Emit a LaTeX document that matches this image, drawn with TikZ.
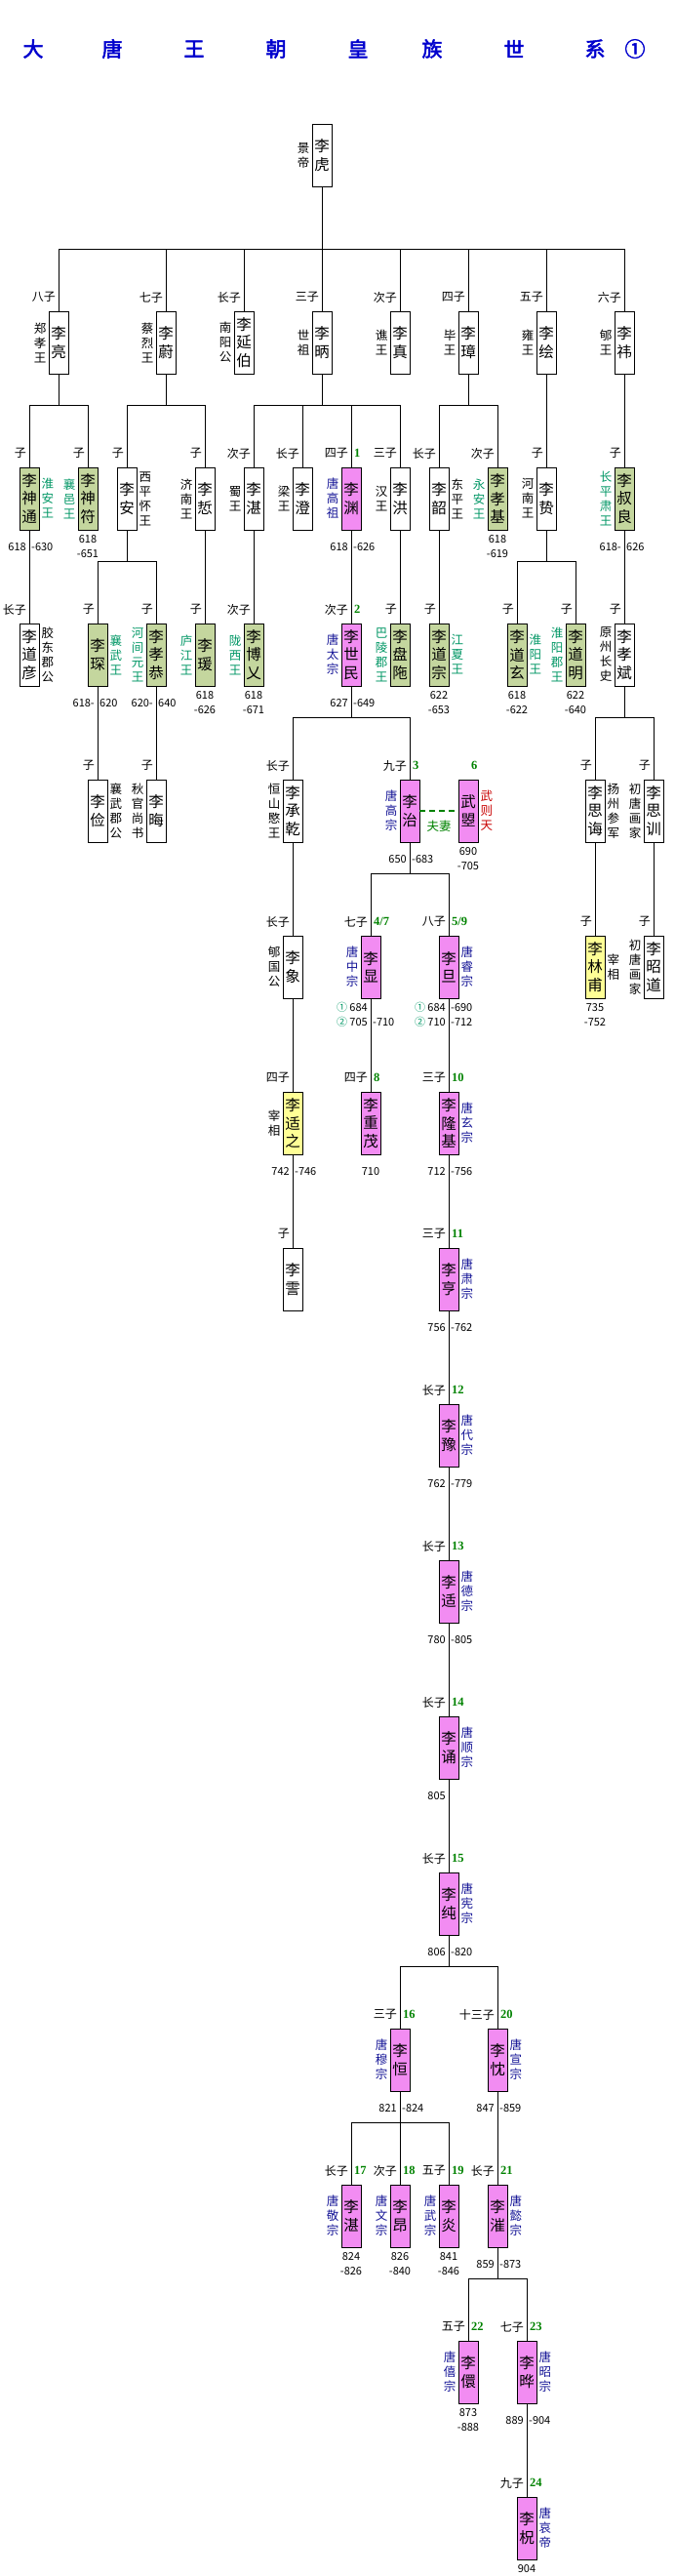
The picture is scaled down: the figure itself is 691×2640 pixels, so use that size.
\documentclass[tikz,border=0pt]{standalone}
\usepackage{fontspec}
\setmainfont{Noto Sans CJK SC}
\newfontfamily\titlefont{Noto Sans CJK SC}[FakeBold=2.5]
\newfontfamily\numfont{Liberation Serif}
\usetikzlibrary{positioning,calc}

\definecolor{fenhong}{RGB}{242,140,242}  % 皇帝
\definecolor{danlv}{RGB}{196,214,158}    % 封王
\definecolor{danhuang}{RGB}{255,255,150} % 宰相
\definecolor{wanglv}{RGB}{0,150,100}
\definecolor{dilan}{RGB}{20,20,150}
\definecolor{hongzi}{RGB}{200,0,0}
\definecolor{shulv}{RGB}{0,130,0}
\definecolor{biaolan}{RGB}{0,0,205}

\tikzset{
  wbox/.style={draw,line width=0.9pt,fill=white,minimum width=20pt,minimum height=64pt,inner sep=0pt,align=center,font=\fontsize{15.5}{18.5}\selectfont},
  gbox/.style={wbox,fill=danlv},
  pbox/.style={wbox,fill=fenhong},
  ybox/.style={wbox,fill=danhuang},
  sidet/.style={inner sep=0pt,align=center,font=\fontsize{12.5}{15}\selectfont},
  relt/.style={inner sep=0pt,anchor=east,font=\fontsize{12}{14}\selectfont},
  haot/.style={inner sep=0pt,anchor=west,text=shulv,font=\numfont\bfseries\fontsize{12.5}{14}\selectfont},
  datel/.style={inner sep=0pt,anchor=east,font=\fontsize{11}{13}\selectfont},
  dater/.style={inner sep=0pt,anchor=west,font=\fontsize{11}{13}\selectfont},
  datec/.style={inner sep=0pt,font=\fontsize{11}{13}\selectfont},
  lianxian/.style={line width=0.9pt},
  fuqi/.style={draw=shulv,line width=1.8pt,dash pattern=on 6pt off 4pt},
  ttl/.style={inner sep=0pt,text=biaolan,font=\titlefont\fontsize{21}{24}\selectfont},
}

\begin{document}
\begin{tikzpicture}[x=1pt,y=-1pt]
\useasboundingbox (0,0) rectangle (691,2640);

% 标题
\foreach \ch/\x [count=\i] in {大/34,唐/115,王/199,朝/283,皇/367,族/443,世/527,系/610,①/651}
  \node[ttl] (title\i) at (\x,50) {\ch};

% 第一代
\node[wbox] (hu) at (330,159) {李\\虎};
\node[sidet,left=2pt of hu] (hu-t) {景\\帝};

% 第二代
\node[wbox] (liang) at (60,351) {李\\亮};
\node[relt] (liang-r) at ([xshift=-3pt,yshift=14pt]liang.north) {八子};
\node[sidet,left=2pt of liang] (liang-t) {郑\\孝\\王};
\node[wbox] (wei) at (170,351) {李\\蔚};
\node[relt] (wei-r) at ([xshift=-3pt,yshift=14pt]wei.north) {七子};
\node[sidet,left=2pt of wei] (wei-t) {蔡\\烈\\王};
\node[wbox] (yanbo) at (250,351) {李\\延\\伯};
\node[relt] (yanbo-r) at ([xshift=-3pt,yshift=14pt]yanbo.north) {长子};
\node[sidet,left=2pt of yanbo] (yanbo-t) {南\\阳\\公};
\node[wbox] (bing) at (330,351) {李\\昞};
\node[relt] (bing-r) at ([xshift=-3pt,yshift=14pt]bing.north) {三子};
\node[sidet,left=2pt of bing] (bing-t) {世\\祖};
\node[wbox] (zhen) at (410,351) {李\\真};
\node[relt] (zhen-r) at ([xshift=-3pt,yshift=14pt]zhen.north) {次子};
\node[sidet,left=2pt of zhen] (zhen-t) {谯\\王};
\node[wbox] (zhang) at (480,351) {李\\璋};
\node[relt] (zhang-r) at ([xshift=-3pt,yshift=14pt]zhang.north) {四子};
\node[sidet,left=2pt of zhang] (zhang-t) {毕\\王};
\node[wbox] (hui) at (560,351) {李\\绘};
\node[relt] (hui-r) at ([xshift=-3pt,yshift=14pt]hui.north) {五子};
\node[sidet,left=2pt of hui] (hui-t) {雍\\王};
\node[wbox] (yi) at (640,351) {李\\祎};
\node[relt] (yi-r) at ([xshift=-3pt,yshift=14pt]yi.north) {六子};
\node[sidet,left=2pt of yi] (yi-t) {郇\\王};

% 第三代
\node[gbox] (shentong) at (30,511) {李\\神\\通};
\node[relt] (shentong-r) at ([xshift=-3pt,yshift=14pt]shentong.north) {子};
\node[sidet,text=wanglv,right=2pt of shentong] (shentong-t) {淮\\安\\王};
\node[datel] (shentong-d1) at ([xshift=-3pt,yshift=-17pt]shentong.south) {618};
\node[dater] (shentong-d2) at ([xshift=2pt,yshift=-17pt]shentong.south) {-630};
\node[gbox] (shenfu) at (90,511) {李\\神\\符};
\node[relt] (shenfu-r) at ([xshift=-3pt,yshift=14pt]shenfu.north) {子};
\node[sidet,text=wanglv,left=2pt of shenfu] (shenfu-t) {襄\\邑\\王};
\node[datec] (shenfu-d1) at ([yshift=-9pt]shenfu.south) {618};
\node[datec] (shenfu-d2) at ([yshift=-24pt]shenfu.south) {-651};
\node[wbox] (an) at (130,511) {李\\安};
\node[relt] (an-r) at ([xshift=-3pt,yshift=14pt]an.north) {子};
\node[sidet,right=2pt of an] (an-t) {西\\平\\怀\\王};
\node[wbox] (zhe) at (210,511) {李\\悊};
\node[relt] (zhe-r) at ([xshift=-3pt,yshift=14pt]zhe.north) {子};
\node[sidet,left=2pt of zhe] (zhe-t) {济\\南\\王};
\node[wbox] (zhan) at (260,511) {李\\湛};
\node[relt] (zhan-r) at ([xshift=-3pt,yshift=14pt]zhan.north) {次子};
\node[sidet,left=2pt of zhan] (zhan-t) {蜀\\王};
\node[wbox] (cheng) at (310,511) {李\\澄};
\node[relt] (cheng-r) at ([xshift=-3pt,yshift=14pt]cheng.north) {长子};
\node[sidet,left=2pt of cheng] (cheng-t) {梁\\王};
\node[pbox] (yuan) at (360,511) {李\\渊};
\node[relt] (yuan-r) at ([xshift=-3pt,yshift=14pt]yuan.north) {四子};
\node[haot] (yuan-n) at ([xshift=3pt,yshift=14pt]yuan.north) {1};
\node[sidet,text=dilan,left=2pt of yuan] (yuan-t) {唐\\高\\祖};
\node[datel] (yuan-d1) at ([xshift=-3pt,yshift=-17pt]yuan.south) {618};
\node[dater] (yuan-d2) at ([xshift=2pt,yshift=-17pt]yuan.south) {-626};
\node[wbox] (hong) at (410,511) {李\\洪};
\node[relt] (hong-r) at ([xshift=-3pt,yshift=14pt]hong.north) {三子};
\node[sidet,left=2pt of hong] (hong-t) {汉\\王};
\node[wbox] (shao) at (450,511) {李\\韶};
\node[relt] (shao-r) at ([xshift=-3pt,yshift=14pt]shao.north) {长子};
\node[sidet,right=2pt of shao] (shao-t) {东\\平\\王};
\node[gbox] (xiaoji) at (510,511) {李\\孝\\基};
\node[relt] (xiaoji-r) at ([xshift=-3pt,yshift=14pt]xiaoji.north) {次子};
\node[sidet,text=wanglv,left=2pt of xiaoji] (xiaoji-t) {永\\安\\王};
\node[datec] (xiaoji-d1) at ([yshift=-9pt]xiaoji.south) {618};
\node[datec] (xiaoji-d2) at ([yshift=-24pt]xiaoji.south) {-619};
\node[wbox] (zhi) at (560,511) {李\\贽};
\node[relt] (zhi-r) at ([xshift=-3pt,yshift=14pt]zhi.north) {子};
\node[sidet,left=2pt of zhi] (zhi-t) {河\\南\\王};
\node[gbox] (shuliang) at (640,511) {李\\叔\\良};
\node[relt] (shuliang-r) at ([xshift=-3pt,yshift=14pt]shuliang.north) {子};
\node[sidet,text=wanglv,left=2pt of shuliang] (shuliang-t) {长\\平\\肃\\王};
\node[datel] (shuliang-d1) at ([xshift=-3pt,yshift=-17pt]shuliang.south) {618-};
\node[dater] (shuliang-d2) at ([xshift=2pt,yshift=-17pt]shuliang.south) {626};

% 第四代
\node[wbox] (daoyan) at (30,671) {李\\道\\彦};
\node[relt] (daoyan-r) at ([xshift=-3pt,yshift=14pt]daoyan.north) {长子};
\node[sidet,right=2pt of daoyan] (daoyan-t) {胶\\东\\郡\\公};
\node[gbox] (chen) at (100,671) {李\\琛};
\node[relt] (chen-r) at ([xshift=-3pt,yshift=14pt]chen.north) {子};
\node[sidet,text=wanglv,right=2pt of chen] (chen-t) {襄\\武\\王};
\node[datel] (chen-d1) at ([xshift=-3pt,yshift=-17pt]chen.south) {618-};
\node[dater] (chen-d2) at ([xshift=2pt,yshift=-17pt]chen.south) {620};
\node[gbox] (xiaogong) at (160,671) {李\\孝\\恭};
\node[relt] (xiaogong-r) at ([xshift=-3pt,yshift=14pt]xiaogong.north) {子};
\node[sidet,text=wanglv,left=2pt of xiaogong] (xiaogong-t) {河\\间\\元\\王};
\node[datel] (xiaogong-d1) at ([xshift=-3pt,yshift=-17pt]xiaogong.south) {620-};
\node[dater] (xiaogong-d2) at ([xshift=2pt,yshift=-17pt]xiaogong.south) {640};
\node[gbox] (yuan2) at (210,671) {李\\瑗};
\node[relt] (yuan2-r) at ([xshift=-3pt,yshift=14pt]yuan2.north) {子};
\node[sidet,text=wanglv,left=2pt of yuan2] (yuan2-t) {庐\\江\\王};
\node[datec] (yuan2-d1) at ([yshift=-9pt]yuan2.south) {618};
\node[datec] (yuan2-d2) at ([yshift=-24pt]yuan2.south) {-626};
\node[gbox] (boyi) at (260,671) {李\\博\\乂};
\node[relt] (boyi-r) at ([xshift=-3pt,yshift=14pt]boyi.north) {次子};
\node[sidet,text=wanglv,left=2pt of boyi] (boyi-t) {陇\\西\\王};
\node[datec] (boyi-d1) at ([yshift=-9pt]boyi.south) {618};
\node[datec] (boyi-d2) at ([yshift=-24pt]boyi.south) {-671};
\node[pbox] (shimin) at (360,671) {李\\世\\民};
\node[relt] (shimin-r) at ([xshift=-3pt,yshift=14pt]shimin.north) {次子};
\node[haot] (shimin-n) at ([xshift=3pt,yshift=14pt]shimin.north) {2};
\node[sidet,text=dilan,left=2pt of shimin] (shimin-t) {唐\\太\\宗};
\node[datel] (shimin-d1) at ([xshift=-3pt,yshift=-17pt]shimin.south) {627};
\node[dater] (shimin-d2) at ([xshift=2pt,yshift=-17pt]shimin.south) {-649};
\node[gbox] (panto) at (410,671) {李\\盘\\陁};
\node[relt] (panto-r) at ([xshift=-3pt,yshift=14pt]panto.north) {子};
\node[sidet,text=wanglv,left=2pt of panto] (panto-t) {巴\\陵\\郡\\王};
\node[gbox] (daozong) at (450,671) {李\\道\\宗};
\node[relt] (daozong-r) at ([xshift=-3pt,yshift=14pt]daozong.north) {子};
\node[sidet,text=wanglv,right=2pt of daozong] (daozong-t) {江\\夏\\王};
\node[datec] (daozong-d1) at ([yshift=-9pt]daozong.south) {622};
\node[datec] (daozong-d2) at ([yshift=-24pt]daozong.south) {-653};
\node[gbox] (daoxuan) at (530,671) {李\\道\\玄};
\node[relt] (daoxuan-r) at ([xshift=-3pt,yshift=14pt]daoxuan.north) {子};
\node[sidet,text=wanglv,right=2pt of daoxuan] (daoxuan-t) {淮\\阳\\王};
\node[datec] (daoxuan-d1) at ([yshift=-9pt]daoxuan.south) {618};
\node[datec] (daoxuan-d2) at ([yshift=-24pt]daoxuan.south) {-622};
\node[gbox] (daoming) at (590,671) {李\\道\\明};
\node[relt] (daoming-r) at ([xshift=-3pt,yshift=14pt]daoming.north) {子};
\node[sidet,text=wanglv,left=2pt of daoming] (daoming-t) {淮\\阳\\郡\\王};
\node[datec] (daoming-d1) at ([yshift=-9pt]daoming.south) {622};
\node[datec] (daoming-d2) at ([yshift=-24pt]daoming.south) {-640};
\node[wbox] (xiaobin) at (640,671) {李\\孝\\斌};
\node[relt] (xiaobin-r) at ([xshift=-3pt,yshift=14pt]xiaobin.north) {子};
\node[sidet,left=2pt of xiaobin] (xiaobin-t) {原\\州\\长\\史};

% 第五代
\node[wbox] (jian) at (100,831) {李\\俭};
\node[relt] (jian-r) at ([xshift=-3pt,yshift=14pt]jian.north) {子};
\node[sidet,right=2pt of jian] (jian-t) {襄\\武\\郡\\公};
\node[wbox] (hui2) at (160,831) {李\\晦};
\node[relt] (hui2-r) at ([xshift=-3pt,yshift=14pt]hui2.north) {子};
\node[sidet,left=2pt of hui2] (hui2-t) {秋\\官\\尚\\书};
\node[wbox] (chengqian) at (300,831) {李\\承\\乾};
\node[relt] (chengqian-r) at ([xshift=-3pt,yshift=14pt]chengqian.north) {长子};
\node[sidet,left=2pt of chengqian] (chengqian-t) {恒\\山\\愍\\王};
\node[pbox] (zhi2) at (420,831) {李\\治};
\node[relt] (zhi2-r) at ([xshift=-3pt,yshift=14pt]zhi2.north) {九子};
\node[haot] (zhi2-n) at ([xshift=3pt,yshift=14pt]zhi2.north) {3};
\node[sidet,text=dilan,left=2pt of zhi2] (zhi2-t) {唐\\高\\宗};
\node[datel] (zhi2-d1) at ([xshift=-3pt,yshift=-17pt]zhi2.south) {650};
\node[dater] (zhi2-d2) at ([xshift=2pt,yshift=-17pt]zhi2.south) {-683};
\node[pbox] (zhao) at (480,831) {武\\曌};
\node[haot] (zhao-n) at ([xshift=3pt,yshift=14pt]zhao.north) {6};
\node[sidet,text=hongzi,right=2pt of zhao] (zhao-t) {武\\则\\天};
\node[datec] (zhao-d1) at ([yshift=-9pt]zhao.south) {690};
\node[datec] (zhao-d2) at ([yshift=-24pt]zhao.south) {-705};
\node[wbox] (sihui) at (610,831) {李\\思\\诲};
\node[relt] (sihui-r) at ([xshift=-3pt,yshift=14pt]sihui.north) {子};
\node[sidet,right=2pt of sihui] (sihui-t) {扬\\州\\参\\军};
\node[wbox] (sixun) at (670,831) {李\\思\\训};
\node[relt] (sixun-r) at ([xshift=-3pt,yshift=14pt]sixun.north) {子};
\node[sidet,left=2pt of sixun] (sixun-t) {初\\唐\\画\\家};

% 第六代
\node[wbox] (xiang) at (300,991) {李\\象};
\node[relt] (xiang-r) at ([xshift=-3pt,yshift=14pt]xiang.north) {长子};
\node[sidet,left=2pt of xiang] (xiang-t) {郇\\国\\公};
\node[pbox] (xian) at (380,991) {李\\显};
\node[relt] (xian-r) at ([xshift=-3pt,yshift=14pt]xian.north) {七子};
\node[haot] (xian-n) at ([xshift=3pt,yshift=14pt]xian.north) {4/7};
\node[sidet,text=dilan,left=2pt of xian] (xian-t) {唐\\中\\宗};
\node[datel] (xian-d1) at ([xshift=-3pt,yshift=-9pt]xian.south) {\textcolor{wanglv}{①} 684};
\node[datel] (xian-d2) at ([xshift=-3pt,yshift=-24pt]xian.south) {\textcolor{wanglv}{②} 705};
\node[dater] (xian-d3) at ([xshift=2pt,yshift=-24pt]xian.south) {-710};
\node[pbox] (dan) at (460,991) {李\\旦};
\node[relt] (dan-r) at ([xshift=-3pt,yshift=14pt]dan.north) {八子};
\node[haot] (dan-n) at ([xshift=3pt,yshift=14pt]dan.north) {5/9};
\node[sidet,text=dilan,right=2pt of dan] (dan-t) {唐\\睿\\宗};
\node[datel] (dan-d1) at ([xshift=-3pt,yshift=-9pt]dan.south) {\textcolor{wanglv}{①} 684};
\node[dater] (dan-d2) at ([xshift=2pt,yshift=-9pt]dan.south) {-690};
\node[datel] (dan-d3) at ([xshift=-3pt,yshift=-24pt]dan.south) {\textcolor{wanglv}{②} 710};
\node[dater] (dan-d4) at ([xshift=2pt,yshift=-24pt]dan.south) {-712};
\node[ybox] (linfu) at (610,991) {李\\林\\甫};
\node[relt] (linfu-r) at ([xshift=-3pt,yshift=14pt]linfu.north) {子};
\node[sidet,right=2pt of linfu] (linfu-t) {宰\\相};
\node[datec] (linfu-d1) at ([yshift=-9pt]linfu.south) {735};
\node[datec] (linfu-d2) at ([yshift=-24pt]linfu.south) {-752};
\node[wbox] (zhaodao) at (670,991) {李\\昭\\道};
\node[relt] (zhaodao-r) at ([xshift=-3pt,yshift=14pt]zhaodao.north) {子};
\node[sidet,left=2pt of zhaodao] (zhaodao-t) {初\\唐\\画\\家};

% 第七代
\node[ybox] (shizhi) at (300,1151) {李\\适\\之};
\node[relt] (shizhi-r) at ([xshift=-3pt,yshift=14pt]shizhi.north) {四子};
\node[sidet,left=2pt of shizhi] (shizhi-t) {宰\\相};
\node[datel] (shizhi-d1) at ([xshift=-3pt,yshift=-17pt]shizhi.south) {742};
\node[dater] (shizhi-d2) at ([xshift=2pt,yshift=-17pt]shizhi.south) {-746};
\node[pbox] (chongmao) at (380,1151) {李\\重\\茂};
\node[relt] (chongmao-r) at ([xshift=-3pt,yshift=14pt]chongmao.north) {四子};
\node[haot] (chongmao-n) at ([xshift=3pt,yshift=14pt]chongmao.north) {8};
\node[datec] (chongmao-d1) at ([yshift=-17pt]chongmao.south) {710};
\node[pbox] (longji) at (460,1151) {李\\隆\\基};
\node[relt] (longji-r) at ([xshift=-3pt,yshift=14pt]longji.north) {三子};
\node[haot] (longji-n) at ([xshift=3pt,yshift=14pt]longji.north) {10};
\node[sidet,text=dilan,right=2pt of longji] (longji-t) {唐\\玄\\宗};
\node[datel] (longji-d1) at ([xshift=-3pt,yshift=-17pt]longji.south) {712};
\node[dater] (longji-d2) at ([xshift=2pt,yshift=-17pt]longji.south) {-756};

% 第八代以下
\node[wbox] (zha) at (300,1311) {李\\霅};
\node[relt] (zha-r) at ([xshift=-3pt,yshift=14pt]zha.north) {子};
\node[pbox] (heng) at (460,1311) {李\\亨};
\node[relt] (heng-r) at ([xshift=-3pt,yshift=14pt]heng.north) {三子};
\node[haot] (heng-n) at ([xshift=3pt,yshift=14pt]heng.north) {11};
\node[sidet,text=dilan,right=2pt of heng] (heng-t) {唐\\肃\\宗};
\node[datel] (heng-d1) at ([xshift=-3pt,yshift=-17pt]heng.south) {756};
\node[dater] (heng-d2) at ([xshift=2pt,yshift=-17pt]heng.south) {-762};

\node[pbox] (yu) at (460,1471) {李\\豫};
\node[relt] (yu-r) at ([xshift=-3pt,yshift=14pt]yu.north) {长子};
\node[haot] (yu-n) at ([xshift=3pt,yshift=14pt]yu.north) {12};
\node[sidet,text=dilan,right=2pt of yu] (yu-t) {唐\\代\\宗};
\node[datel] (yu-d1) at ([xshift=-3pt,yshift=-17pt]yu.south) {762};
\node[dater] (yu-d2) at ([xshift=2pt,yshift=-17pt]yu.south) {-779};

\node[pbox] (kuo) at (460,1631) {李\\适};
\node[relt] (kuo-r) at ([xshift=-3pt,yshift=14pt]kuo.north) {长子};
\node[haot] (kuo-n) at ([xshift=3pt,yshift=14pt]kuo.north) {13};
\node[sidet,text=dilan,right=2pt of kuo] (kuo-t) {唐\\德\\宗};
\node[datel] (kuo-d1) at ([xshift=-3pt,yshift=-17pt]kuo.south) {780};
\node[dater] (kuo-d2) at ([xshift=2pt,yshift=-17pt]kuo.south) {-805};

\node[pbox] (song) at (460,1791) {李\\诵};
\node[relt] (song-r) at ([xshift=-3pt,yshift=14pt]song.north) {长子};
\node[haot] (song-n) at ([xshift=3pt,yshift=14pt]song.north) {14};
\node[sidet,text=dilan,right=2pt of song] (song-t) {唐\\顺\\宗};
\node[datel] (song-d1) at ([xshift=-3pt,yshift=-17pt]song.south) {805};

\node[pbox] (chun) at (460,1951) {李\\纯};
\node[relt] (chun-r) at ([xshift=-3pt,yshift=14pt]chun.north) {长子};
\node[haot] (chun-n) at ([xshift=3pt,yshift=14pt]chun.north) {15};
\node[sidet,text=dilan,right=2pt of chun] (chun-t) {唐\\宪\\宗};
\node[datel] (chun-d1) at ([xshift=-3pt,yshift=-17pt]chun.south) {806};
\node[dater] (chun-d2) at ([xshift=2pt,yshift=-17pt]chun.south) {-820};

\node[pbox] (heng2) at (410,2111) {李\\恒};
\node[relt] (heng2-r) at ([xshift=-3pt,yshift=14pt]heng2.north) {三子};
\node[haot] (heng2-n) at ([xshift=3pt,yshift=14pt]heng2.north) {16};
\node[sidet,text=dilan,left=2pt of heng2] (heng2-t) {唐\\穆\\宗};
\node[datel] (heng2-d1) at ([xshift=-3pt,yshift=-17pt]heng2.south) {821};
\node[dater] (heng2-d2) at ([xshift=2pt,yshift=-17pt]heng2.south) {-824};
\node[pbox] (chen2) at (510,2111) {李\\忱};
\node[relt] (chen2-r) at ([xshift=-3pt,yshift=14pt]chen2.north) {十三子};
\node[haot] (chen2-n) at ([xshift=3pt,yshift=14pt]chen2.north) {20};
\node[sidet,text=dilan,right=2pt of chen2] (chen2-t) {唐\\宣\\宗};
\node[datel] (chen2-d1) at ([xshift=-3pt,yshift=-17pt]chen2.south) {847};
\node[dater] (chen2-d2) at ([xshift=2pt,yshift=-17pt]chen2.south) {-859};

\node[pbox] (zhan2) at (360,2271) {李\\湛};
\node[relt] (zhan2-r) at ([xshift=-3pt,yshift=14pt]zhan2.north) {长子};
\node[haot] (zhan2-n) at ([xshift=3pt,yshift=14pt]zhan2.north) {17};
\node[sidet,text=dilan,left=2pt of zhan2] (zhan2-t) {唐\\敬\\宗};
\node[datec] (zhan2-d1) at ([yshift=-9pt]zhan2.south) {824};
\node[datec] (zhan2-d2) at ([yshift=-24pt]zhan2.south) {-826};
\node[pbox] (ang) at (410,2271) {李\\昂};
\node[relt] (ang-r) at ([xshift=-3pt,yshift=14pt]ang.north) {次子};
\node[haot] (ang-n) at ([xshift=3pt,yshift=14pt]ang.north) {18};
\node[sidet,text=dilan,left=2pt of ang] (ang-t) {唐\\文\\宗};
\node[datec] (ang-d1) at ([yshift=-9pt]ang.south) {826};
\node[datec] (ang-d2) at ([yshift=-24pt]ang.south) {-840};
\node[pbox] (yan) at (460,2271) {李\\炎};
\node[relt] (yan-r) at ([xshift=-3pt,yshift=14pt]yan.north) {五子};
\node[haot] (yan-n) at ([xshift=3pt,yshift=14pt]yan.north) {19};
\node[sidet,text=dilan,left=2pt of yan] (yan-t) {唐\\武\\宗};
\node[datec] (yan-d1) at ([yshift=-9pt]yan.south) {841};
\node[datec] (yan-d2) at ([yshift=-24pt]yan.south) {-846};
\node[pbox] (cui) at (510,2271) {李\\漼};
\node[relt] (cui-r) at ([xshift=-3pt,yshift=14pt]cui.north) {长子};
\node[haot] (cui-n) at ([xshift=3pt,yshift=14pt]cui.north) {21};
\node[sidet,text=dilan,right=2pt of cui] (cui-t) {唐\\懿\\宗};
\node[datel] (cui-d1) at ([xshift=-3pt,yshift=-17pt]cui.south) {859};
\node[dater] (cui-d2) at ([xshift=2pt,yshift=-17pt]cui.south) {-873};

\node[pbox] (xuan) at (480,2431) {李\\儇};
\node[relt] (xuan-r) at ([xshift=-3pt,yshift=14pt]xuan.north) {五子};
\node[haot] (xuan-n) at ([xshift=3pt,yshift=14pt]xuan.north) {22};
\node[sidet,text=dilan,left=2pt of xuan] (xuan-t) {唐\\僖\\宗};
\node[datec] (xuan-d1) at ([yshift=-9pt]xuan.south) {873};
\node[datec] (xuan-d2) at ([yshift=-24pt]xuan.south) {-888};
\node[pbox] (ye) at (540,2431) {李\\晔};
\node[relt] (ye-r) at ([xshift=-3pt,yshift=14pt]ye.north) {七子};
\node[haot] (ye-n) at ([xshift=3pt,yshift=14pt]ye.north) {23};
\node[sidet,text=dilan,right=2pt of ye] (ye-t) {唐\\昭\\宗};
\node[datel] (ye-d1) at ([xshift=-3pt,yshift=-17pt]ye.south) {889};
\node[dater] (ye-d2) at ([xshift=2pt,yshift=-17pt]ye.south) {-904};

\node[pbox] (zhu) at (540,2591) {李\\柷};
\node[relt] (zhu-r) at ([xshift=-3pt,yshift=14pt]zhu.north) {九子};
\node[haot] (zhu-n) at ([xshift=3pt,yshift=14pt]zhu.north) {24};
\node[sidet,text=dilan,right=2pt of zhu] (zhu-t) {唐\\哀\\帝};
\node[datec] (zhu-d1) at ([yshift=-9pt]zhu.south) {904};

% 分叉点
\coordinate (j-hu) at (330,255);
\coordinate (j-liang) at (60,415);
\coordinate (j-wei) at (170,415);
\coordinate (j-bing) at (330,415);
\coordinate (j-zhang) at (480,415);
\coordinate (j-an) at (130,575);
\coordinate (j-zhi) at (560,575);
\coordinate (j-shimin) at (360,735);
\coordinate (j-xiaobin) at (640,735);
\coordinate (j-zhi2) at (420,895);
\coordinate (j-chun) at (460,2015);
\coordinate (j-heng2) at (410,2175);
\coordinate (j-cui) at (510,2335);

% 连线
\foreach \p in {hu,liang,wei,bing,zhang,an,zhi,shimin,xiaobin,zhi2,chun,heng2,cui}
  \draw[lianxian] (\p.south) -- (j-\p);
\foreach \k in {liang,wei,yanbo,bing,zhen,zhang,hui,yi} \draw[lianxian] (j-hu) -| (\k.north);
\foreach \k in {shentong,shenfu} \draw[lianxian] (j-liang) -| (\k.north);
\foreach \k in {an,zhe} \draw[lianxian] (j-wei) -| (\k.north);
\foreach \k in {zhan,cheng,yuan,hong} \draw[lianxian] (j-bing) -| (\k.north);
\foreach \k in {shao,xiaoji} \draw[lianxian] (j-zhang) -| (\k.north);
\foreach \k in {chen,xiaogong} \draw[lianxian] (j-an) -| (\k.north);
\foreach \k in {daoxuan,daoming} \draw[lianxian] (j-zhi) -| (\k.north);
\foreach \k in {chengqian,zhi2} \draw[lianxian] (j-shimin) -| (\k.north);
\foreach \k in {sihui,sixun} \draw[lianxian] (j-xiaobin) -| (\k.north);
\foreach \k in {xian,dan} \draw[lianxian] (j-zhi2) -| (\k.north);
\foreach \k in {heng2,chen2} \draw[lianxian] (j-chun) -| (\k.north);
\foreach \k in {zhan2,ang,yan} \draw[lianxian] (j-heng2) -| (\k.north);
\foreach \k in {xuan,ye} \draw[lianxian] (j-cui) -| (\k.north);
\foreach \a/\b in {hui/zhi,yi/shuliang,shentong/daoyan,zhe/yuan2,zhan/boyi,yuan/shimin,hong/panto,shao/daozong,shuliang/xiaobin,chen/jian,xiaogong/hui2,chengqian/xiang,sihui/linfu,sixun/zhaodao,xiang/shizhi,xian/chongmao,dan/longji,shizhi/zha,longji/heng,heng/yu,yu/kuo,kuo/song,song/chun,chen2/cui,ye/zhu}
  \draw[lianxian] (\a.south) -- (\b.north);

% 夫妻
\draw[fuqi] (zhi2.east) -- (zhao.west);
\node[inner sep=0pt,text=shulv,font=\fontsize{12.5}{14}\selectfont,below=10pt] (fuqi-t) at ($(zhi2.east)!0.5!(zhao.west)$) {夫妻};

\end{tikzpicture}
\end{document}
